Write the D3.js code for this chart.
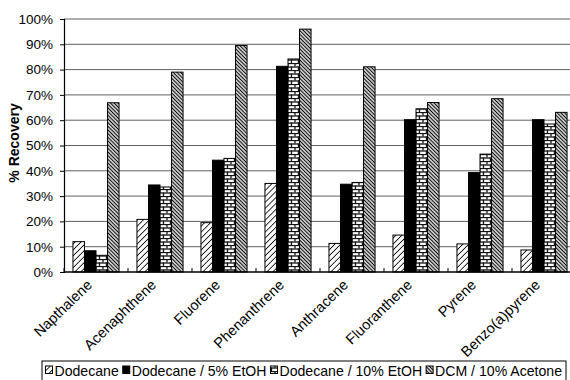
<!DOCTYPE html>
<html><head><meta charset="utf-8">
<script src="https://cdn.jsdelivr.net/npm/d3@7"></script>
<style>body{margin:0;background:#fff}svg{display:block}</style>
</head><body><svg id="c" width="570" height="380"></svg>
<script>
const categories = ["Napthalene","Acenaphthene","Fluorene","Phenanthrene","Anthracene","Fluoranthene","Pyrene","Benzo(a)pyrene"];
const seriesNames = ["Dodecane","Dodecane / 5% EtOH","Dodecane / 10% EtOH","DCM / 10% Acetone"];
const dodecane   = [12.0, 20.8, 19.5, 35.0, 11.3, 14.6, 11.1, 8.7];
const etoh5      = [8.4, 34.4, 44.2, 81.3, 34.7, 60.2, 39.3, 60.2];
const etoh10     = [6.6, 33.6, 44.9, 84.2, 35.4, 64.5, 46.6, 58.5];
const dcmAcetone = [66.9, 79.0, 89.5, 96.0, 81.1, 67.0, 68.5, 63.1];
const yTicks = [0,10,20,30,40,50,60,70,80,90,100];

(function(){
const seriesValues = [dodecane, etoh5, etoh10, dcmAcetone];
const FONT = "Liberation Sans, Arial, sans-serif";
const svg = d3.select("#c");
const defs = svg.append("defs");

function diag(id, size, angle, sw, color, bg){
  const p = defs.append("pattern").attr("id", id).attr("patternUnits","userSpaceOnUse")
    .attr("width", size).attr("height", size).attr("patternTransform", `rotate(${angle})`);
  p.append("rect").attr("width", size).attr("height", size).attr("fill", bg);
  p.append("line").attr("x1",0).attr("y1",0).attr("x2",0).attr("y2",size)
    .attr("stroke", color).attr("stroke-width", sw);
}
diag("pDod", 4.2, 45, 1.6, "#000", "#fff");
diag("pDcm", 2.6, -45, 1.7, "#000", "#c8c8c8");
{
  const p = defs.append("pattern").attr("id","pBrick").attr("patternUnits","userSpaceOnUse")
    .attr("width", 7).attr("height", 7);
  p.append("rect").attr("width",7).attr("height",7).attr("fill","#fff");
  const add = (x1,y1,x2,y2)=>p.append("line").attr("x1",x1).attr("y1",y1).attr("x2",x2).attr("y2",y2)
    .attr("stroke","#111").attr("stroke-width",1.3);
  add(0,0.5,7,0.5); add(0,4,7,4);
  add(2,0,2,3.5); add(5.5,3.5,5.5,7);
}
const fills = ["url(#pDod)","#000","url(#pBrick)","url(#pDcm)"];

const mLeft = 64, mTop = 19, mBottom = 272, mRight = 576;
const x0 = d3.scaleBand().domain(categories).range([mLeft, mRight]).paddingInner(0.28).paddingOuter(0.14);
const x1 = d3.scaleBand().domain(seriesNames).range([0, x0.bandwidth()]);
const y = d3.scaleLinear().domain([0,100]).range([mBottom, mTop]);

svg.append("g").selectAll("line").data(yTicks.filter(d=>d>0)).join("line")
  .attr("x1", mLeft).attr("x2", 570).attr("y1", d=>y(d)).attr("y2", d=>y(d))
  .attr("stroke", "#606060").attr("stroke-width", 1);

const groups = svg.append("g").selectAll("g").data(categories).join("g")
  .attr("transform", d=>`translate(${x0(d)},0)`);
groups.selectAll("rect").data((c,i)=>seriesNames.map((s,j)=>({s, j, v: seriesValues[j][i]}))).join("rect")
  .attr("x", d=>x1(d.s)).attr("width", x1.bandwidth())
  .attr("y", d=>y(d.v)).attr("height", d=>mBottom - y(d.v))
  .attr("fill", d=>fills[d.j]).attr("stroke", "#000").attr("stroke-width", 1);

const yAxis = d3.axisLeft(y).tickValues(yTicks).tickFormat(d=>d+"%").tickSize(4).tickPadding(7);
const ga = svg.append("g").attr("transform", `translate(${mLeft},0)`).call(yAxis);
ga.select(".domain").attr("stroke","#000").attr("stroke-width",1.2);
ga.selectAll("text").attr("font-family",FONT).attr("font-size",13.5).attr("fill","#000");

const boundaries = d3.range(categories.length+1).map(i=>mLeft + i*x0.step());
svg.append("line").attr("x1", mLeft).attr("x2", 570).attr("y1", mBottom).attr("y2", mBottom)
  .attr("stroke","#000").attr("stroke-width",1.5);
svg.append("g").selectAll("line").data(boundaries).join("line")
  .attr("x1", d=>d).attr("x2", d=>d).attr("y1", mBottom).attr("y2", mBottom-4)
  .attr("stroke","#000");
svg.append("g").selectAll("text").data(categories).join("text")
  .attr("transform", d=>`translate(${x0(d)+x0.bandwidth()/2-3},${mBottom+14}) rotate(-44)`)
  .attr("text-anchor","end")
  .attr("font-family",FONT).attr("font-size",14.5)
  .text(d=>d);

svg.append("text").attr("transform","translate(19,143) rotate(-90)")
  .attr("text-anchor","middle").attr("font-family",FONT)
  .attr("font-weight","bold").attr("font-size",14).text("% Recovery");

const lg = svg.append("g");
const boxX = 42, boxW = 524;
lg.append("rect").attr("x",boxX).attr("y",361).attr("width",boxW).attr("height",24)
  .attr("fill","#fff").attr("stroke","#000").attr("stroke-width",1);
const swW = 7, swGap = 2, itemGap = 4, pad = 3.5;
const texts = seriesNames.map(s => lg.append("text").attr("y", 375.5)
  .attr("font-family",FONT).attr("font-size",14).text(s));
const natural = d3.sum(texts, t => t.node().getComputedTextLength());
const avail = boxW - 2*pad - seriesNames.length*(swW+swGap) - (seriesNames.length-1)*itemGap;
const fs = 14 * avail / natural;
let cx = boxX + pad;
texts.forEach((t,i)=>{
  lg.append("rect").attr("x", cx).attr("y", 366).attr("width",swW).attr("height",7.5)
    .attr("fill", fills[i]).attr("stroke","#000").attr("stroke-width",1);
  cx += swW + swGap;
  t.attr("font-size", fs).attr("x", cx);
  cx += t.node().getComputedTextLength() + itemGap;
});
})();
</script></body></html>
